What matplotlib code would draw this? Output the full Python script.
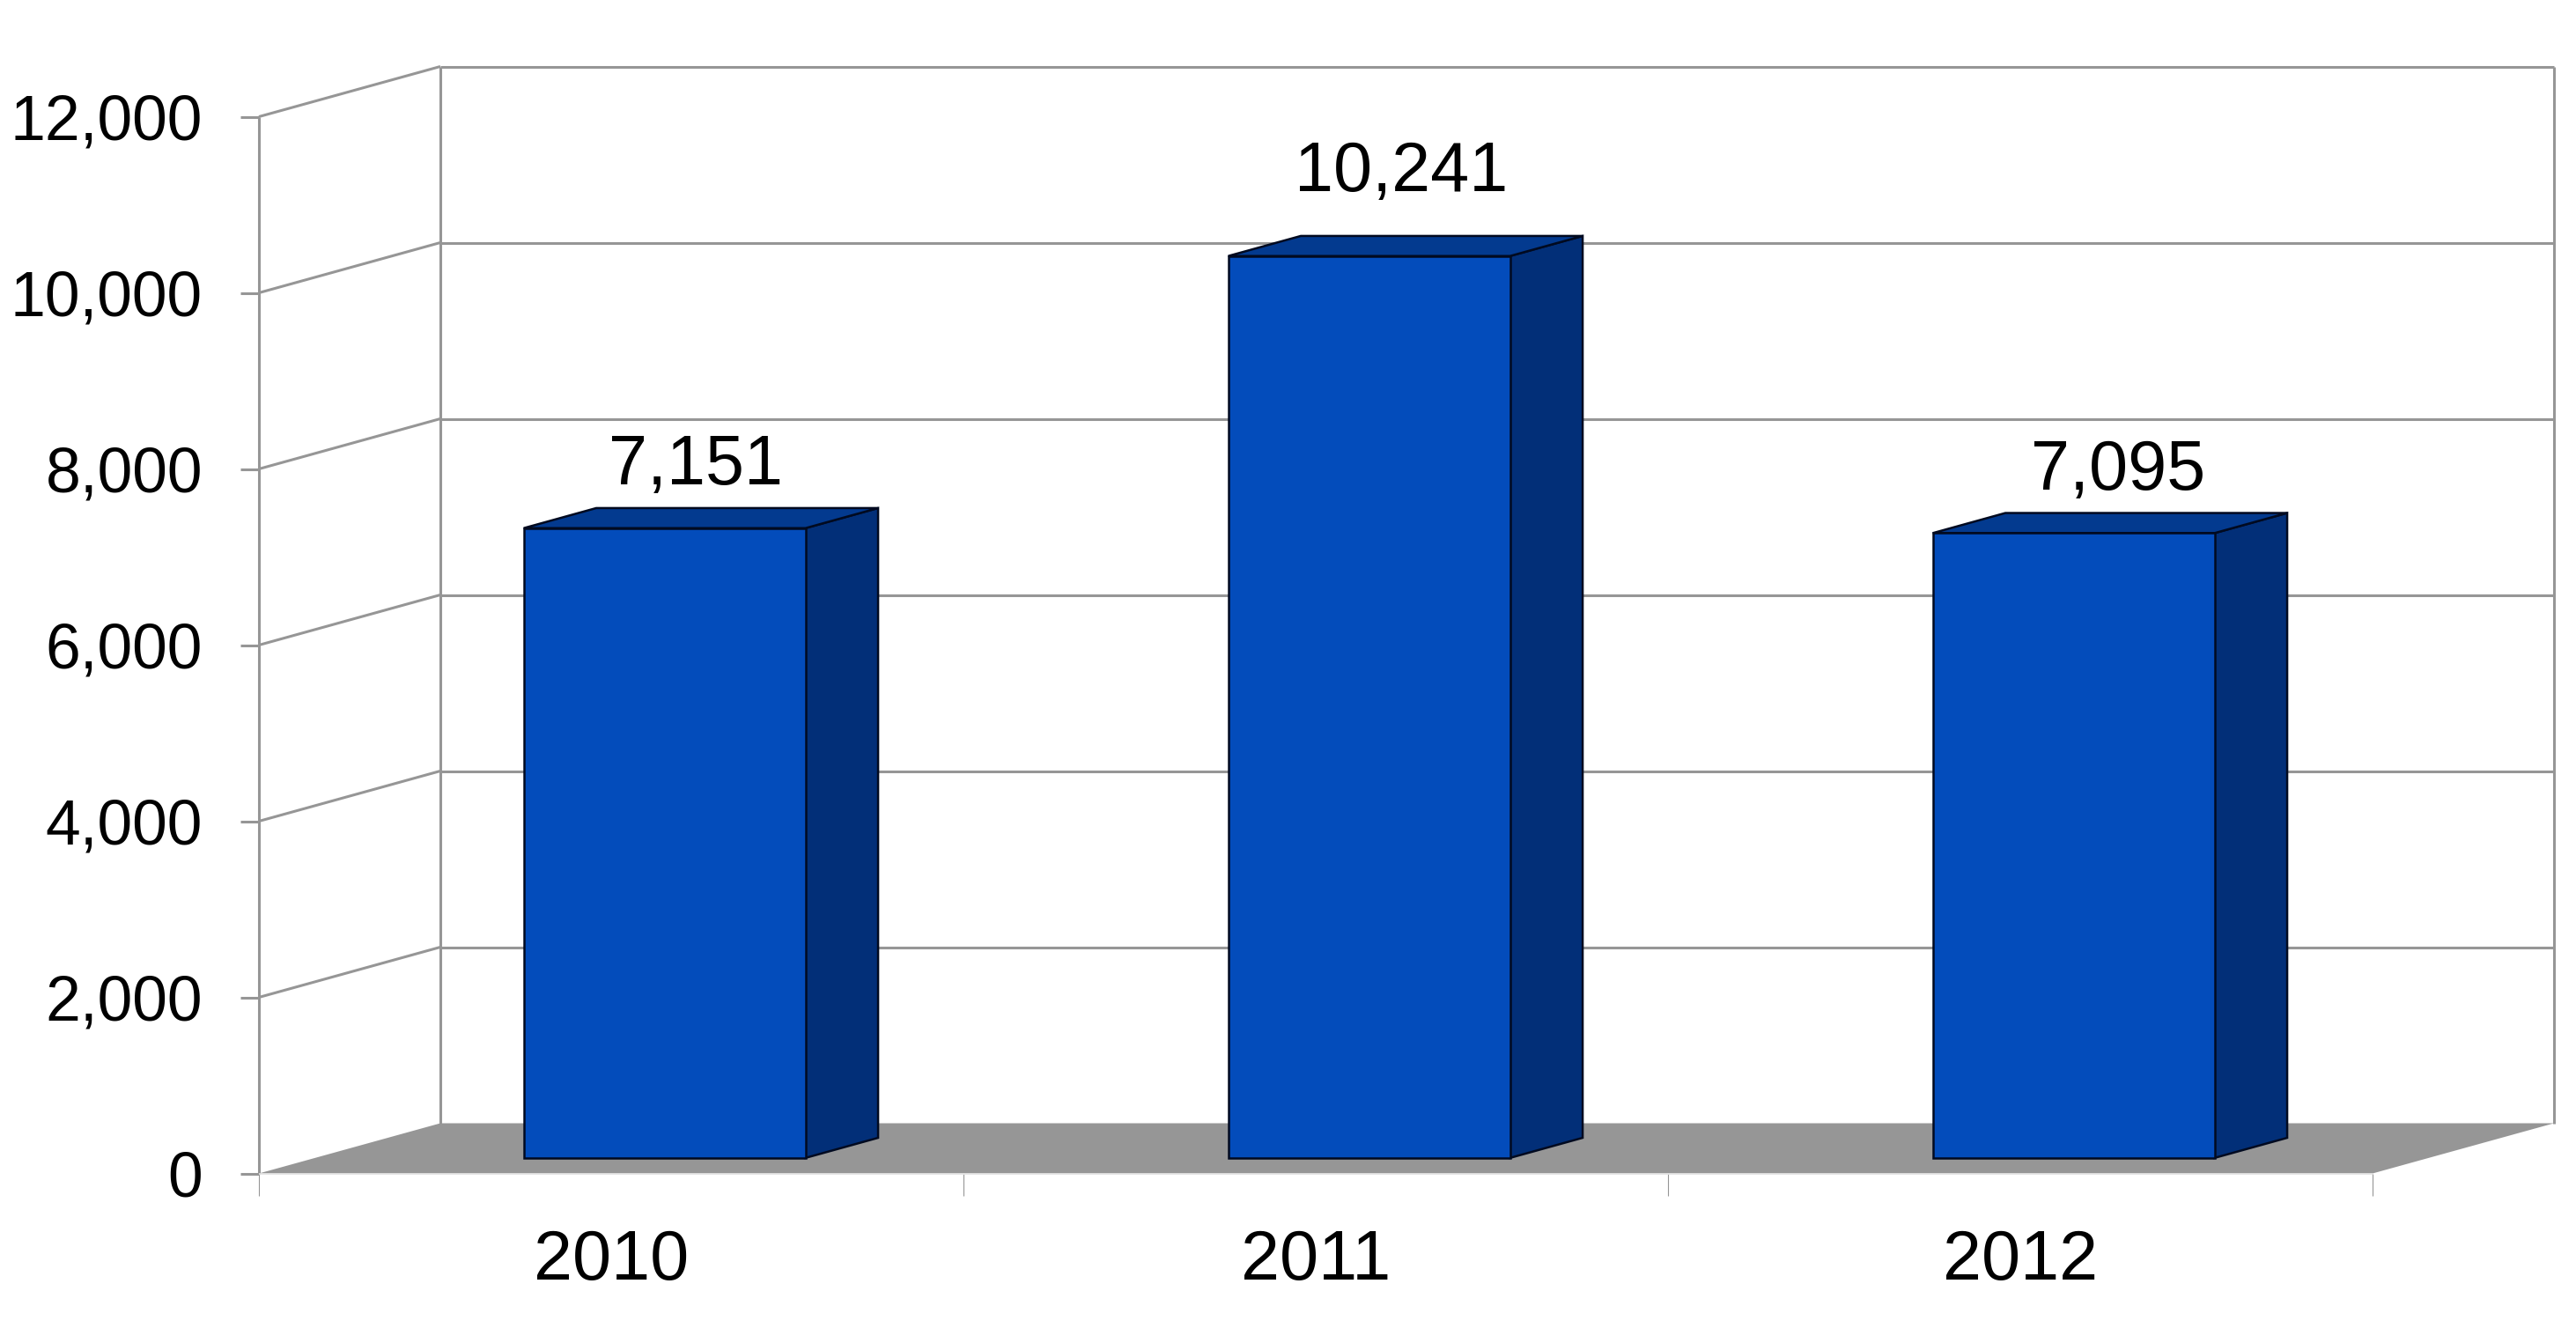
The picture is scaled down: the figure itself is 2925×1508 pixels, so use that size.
import matplotlib
matplotlib.use('Agg')
import matplotlib.pyplot as plt
from matplotlib.patches import Polygon
from matplotlib.ticker import FuncFormatter

# 차트 데이터
years = ['2010', '2011', '2012']
values = [7151, 10241, 7095]
y_ticks = [0, 2000, 4000, 6000, 8000, 10000, 12000]

# 스타일
GRAY = '#969696'
FRONT = '#034CBB'
SIDE = '#022F78'
TOP = '#033A8F'
EDGE = '#010A20'
DEPTH_X = 0.2575   # 깊이 1 당 x 이동 (카테고리 단위)
DEPTH_Y = 570      # 깊이 1 당 y 이동 (값 단위)
D1, D2 = 0.31, 0.71
BAR_W = 0.4
label_dx = [0.12, 0.122, 0.139]
label_dy = [265, 505, 265]

W, H = 2925, 1508
plt.rcParams['font.family'] = ['Liberation Sans', 'DejaVu Sans']

fig = plt.figure(figsize=(W / 100, H / 100), dpi=100)
ax = fig.add_axes([294 / W, (H - 1332.5) / H, 2400 / W, 1200 / H])
ax.set_xlim(0, 3)
ax.set_ylim(0, 12000)
ax.patch.set_alpha(0)
for s in ax.spines.values():
    s.set_visible(False)


def proj(x, v, d=0.0):
    return x + d * DEPTH_X, v + d * DEPTH_Y


def poly(points, fc, ec='none', lw=0, z=1):
    ax.add_patch(Polygon(points, closed=True, facecolor=fc, edgecolor=ec,
                         linewidth=lw, zorder=z, clip_on=False, joinstyle='miter'))


def line(a, b, z=1, color=GRAY, lw=2.2):
    ax.plot([a[0], b[0]], [a[1], b[1]], color=color, lw=lw, zorder=z, clip_on=False,
            solid_capstyle='butt')


# 벽과 눈금선
top = y_ticks[-1]
line(proj(0, 0), proj(0, top))
line(proj(0, 0, 1), proj(0, top, 1))
line(proj(3, 0, 1), proj(3, top, 1))
for v in y_ticks[1:]:
    line(proj(0, v), proj(0, v, 1))
    line(proj(0, v, 1), proj(3, v, 1))

# 바닥
poly([proj(0, 0), proj(3, 0), proj(3, 0, 1), proj(0, 0, 1)], GRAY, z=2)
line(proj(0, 0), proj(3, 0), z=2, color='#E2E2E2', lw=1.2)

# 막대
for i, v in enumerate(values):
    x0 = i + 0.496 - BAR_W / 2
    x1 = x0 + BAR_W
    poly([proj(x0, 0, D1), proj(x1, 0, D1), proj(x1, v, D1), proj(x0, v, D1)],
         FRONT, ec=EDGE, lw=1.8, z=5)
    poly([proj(x1, 0, D1), proj(x1, 0, D2), proj(x1, v, D2), proj(x1, v, D1)],
         SIDE, ec=EDGE, lw=1.8, z=4)
    poly([proj(x0, v, D1), proj(x1, v, D1), proj(x1, v, D2), proj(x0, v, D2)],
         TOP, ec=EDGE, lw=1.8, z=4)
    ly = proj(0, v + label_dy[i], D2)[1]
    ax.text(i + 0.5 + label_dx[i], ly, format(v, ','), ha='center', va='baseline',
            fontsize=57, color='black', zorder=6, clip_on=False)

# 축 눈금
ax.set_yticks(y_ticks)
ax.yaxis.set_major_formatter(FuncFormatter(lambda v, p: format(int(v), ',')))
ax.tick_params(axis='y', length=15, width=2.2, color=GRAY, pad=31, labelsize=51.5)
ax.set_xticks([0, 1, 2, 3])
ax.set_xticklabels([])
ax.tick_params(axis='x', which='major', length=18, width=0.8, color=GRAY)
ax.set_xticks([0.5, 1.5, 2.5], minor=True)
ax.set_xticklabels(years, minor=True)
ax.tick_params(axis='x', which='minor', length=0, pad=45, labelsize=57)

fig.savefig('out.png', dpi=100, facecolor='white')
